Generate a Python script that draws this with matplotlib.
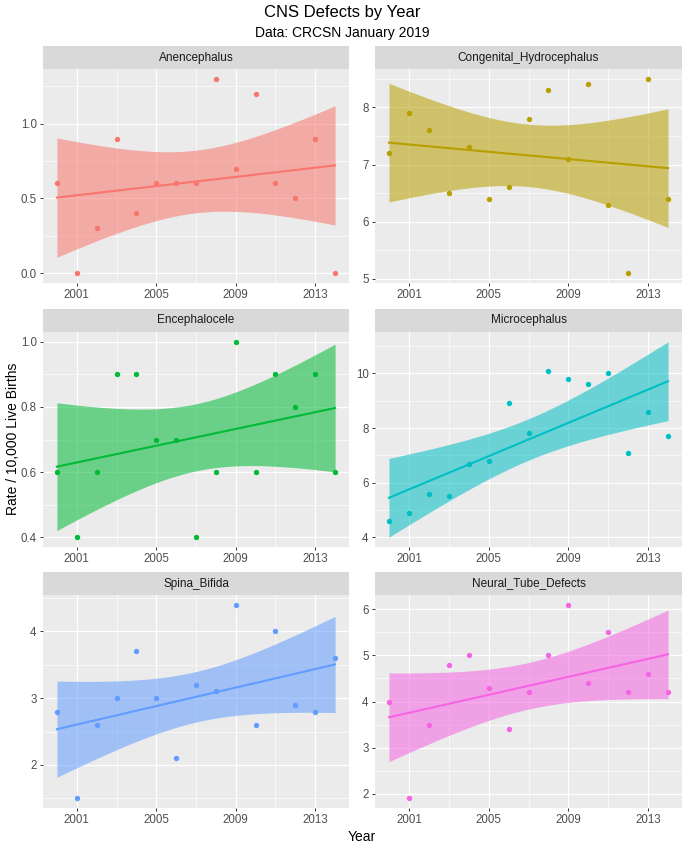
import numpy as np
import matplotlib
matplotlib.use("Agg")
import matplotlib.pyplot as plt

plt.rcParams['font.family'] = ['Liberation Sans', 'DejaVu Sans']

years = list(range(2000, 2015))

defects = ['Anencephalus', 'Congenital_Hydrocephalus', 'Encephalocele',
           'Microcephalus', 'Spina_Bifida', 'Neural_Tube_Defects']

anencephalus = [0.6, 0.0, 0.3, 0.9, 0.4, 0.6, 0.6, 0.6, 1.3, 0.7, 1.2, 0.6, 0.5, 0.9, 0.0]
hydrocephalus = [7.2, 7.9, 7.6, 6.5, 7.3, 6.4, 6.6, 7.8, 8.3, 7.1, 8.4, 6.3, 5.1, 8.5, 6.4]
encephalocele = [0.6, 0.4, 0.6, 0.9, 0.9, 0.7, 0.7, 0.4, 0.6, 1.0, 0.6, 0.9, 0.8, 0.9, 0.6]
microcephalus = [4.6, 4.9, 5.6, 5.5, 6.7, 6.8, 8.9, 7.8, 10.1, 9.8, 9.6, 10.0, 7.1, 8.6, 7.7]
spina_bifida = [2.8, 1.5, 2.6, 3.0, 3.7, 3.0, 2.1, 3.2, 3.1, 4.4, 2.6, 4.0, 2.9, 2.8, 3.6]
neural_tube = [4.0, 1.9, 3.5, 4.8, 5.0, 4.3, 3.4, 4.2, 5.0, 6.1, 4.4, 5.5, 4.2, 4.6, 4.2]

series = [anencephalus, hydrocephalus, encephalocele, microcephalus, spina_bifida, neural_tube]
colors = ['#F8766D', '#B79F00', '#00BA38', '#00BFC4', '#619CFF', '#F564E3']

# y breaks per facet (major, minor)
y_major = [[0.0, 0.5, 1.0], [5, 6, 7, 8], [0.4, 0.6, 0.8, 1.0],
           [4, 6, 8, 10], [2, 3, 4], [2, 3, 4, 5, 6]]
y_minor = [[0.25, 0.75, 1.25], [5.5, 6.5, 7.5, 8.5], [0.5, 0.7, 0.9],
           [5, 7, 9, 11], [1.5, 2.5, 3.5, 4.5], [2.5, 3.5, 4.5, 5.5]]
y_fmt = ['{:.1f}', '{:.0f}', '{:.1f}', '{:.0f}', '{:.0f}', '{:.0f}']
x_major = [2001, 2005, 2009, 2013]
x_minor = [2003, 2007, 2011]

T95 = 2.1604  # t quantile, df = 13

W, H = 684, 848
fig = plt.figure(figsize=(W / 100, H / 100), dpi=100)

# panel geometry in pixels: (left, right) and (strip top, strip bottom, panel bottom)
cols = [(43, 349), (375, 682)]
rows = [(46, 69, 283), (309, 332, 547), (572, 595, 808)]


def lm_band(x, y):
    x = np.asarray(x, float)
    y = np.asarray(y, float)
    n = len(x)
    b, a = np.polyfit(x, y, 1)
    resid = y - (a + b * x)
    s = np.sqrt(np.sum(resid ** 2) / (n - 2))
    xs = np.linspace(x.min(), x.max(), 80)
    fit = a + b * xs
    se = s * np.sqrt(1 / n + (xs - x.mean()) ** 2 / np.sum((x - x.mean()) ** 2))
    return xs, fit, fit - T95 * se, fit + T95 * se


for i, (name, vals, col) in enumerate(zip(defects, series, colors)):
    r, c = divmod(i, 2)
    x0, x1 = cols[c]
    s0, s1, p1 = rows[r]
    ax = fig.add_axes([x0 / W, 1 - p1 / H, (x1 - x0) / W, (p1 - s1) / H])
    sax = fig.add_axes([x0 / W, 1 - s1 / H, (x1 - x0) / W, (s1 - s0) / H])
    sax.set_facecolor('#D9D9D9')
    sax.set_xticks([])
    sax.set_yticks([])
    for sp in sax.spines.values():
        sp.set_visible(False)
    sax.text(0.5, 0.5, name, ha='center', va='center', fontsize=8.5,
             color='#1A1A1A', transform=sax.transAxes)

    xs, fit, lo, hi = lm_band(years, vals)
    ax.fill_between(xs, lo, hi, color=col, alpha=0.55, linewidth=0, zorder=2)
    ax.plot(xs, fit, color=col, linewidth=1.5, zorder=3)
    ax.scatter(years, vals, s=15, color=col, zorder=4, linewidths=0)

    ax.set_facecolor('#EBEBEB')
    for sp in ax.spines.values():
        sp.set_visible(False)
    ymin = min(min(vals), lo.min())
    ymax = max(max(vals), hi.max())
    pad = (ymax - ymin) * 0.05
    ax.set_ylim(ymin - pad, ymax + pad)
    ax.set_xlim(1999.3, 2014.7)

    ax.set_xticks(x_major)
    ax.set_xticks(x_minor, minor=True)
    ax.set_yticks(y_major[i])
    ax.set_yticklabels([y_fmt[i].format(v) for v in y_major[i]])
    ax.set_yticks(y_minor[i], minor=True)
    ax.grid(True, which='major', color='white', linewidth=0.9, zorder=0)
    ax.grid(True, which='minor', color='white', linewidth=0.45, zorder=0)
    ax.set_axisbelow(True)
    ax.tick_params(which='major', length=2.5, width=0.7, color='#333333',
                   labelsize=8.3, labelcolor='#4D4D4D', pad=2)
    ax.tick_params(which='minor', length=0)

fig.text(0.5, 1 - 13 / H, 'CNS Defects by Year', ha='center', va='center',
         fontsize=12, color='black')
fig.text(0.5, 1 - 33 / H, 'Data: CRCSN January 2019', ha='center', va='center',
         fontsize=10, color='black')
fig.text(13 / W, 1 - 439 / H, 'Rate / 10,000 Live Births', ha='center', va='center',
         rotation=90, fontsize=10, color='black')
fig.text(362 / W, 1 - 837 / H, 'Year', ha='center', va='center',
         fontsize=10, color='black')

fig.savefig('out.png', dpi=100)
